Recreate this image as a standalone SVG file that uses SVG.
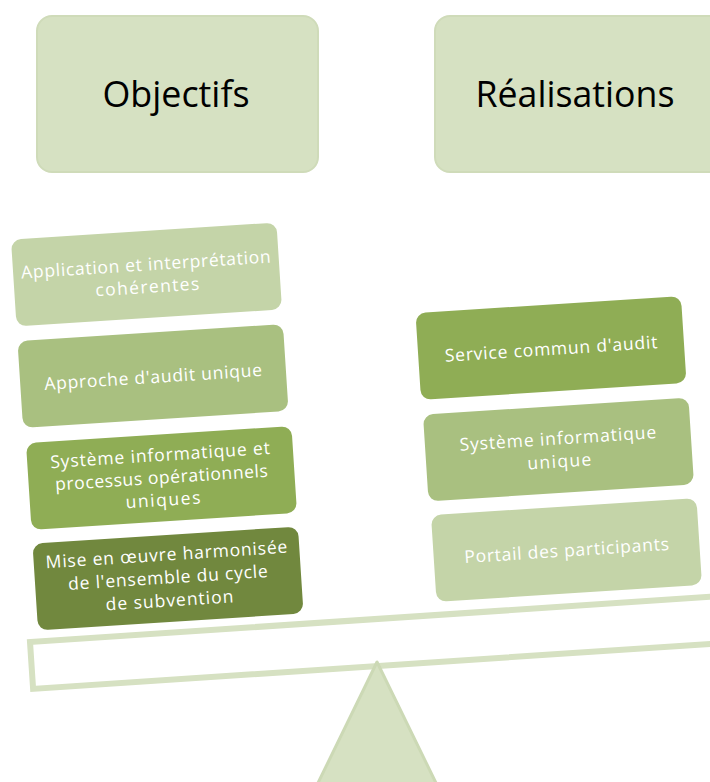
<svg xmlns="http://www.w3.org/2000/svg" width="710" height="782" viewBox="0 0 710 782">
<style>
.hdr{fill:#d6e1c2;stroke:#cfdbb9;stroke-width:2}
.ht{font-family:"Open Sans","Liberation Sans",sans-serif;font-size:36px;fill:#000;text-anchor:middle}
.bt{font-family:"Open Sans","Liberation Sans",sans-serif;font-size:17.5px;fill:#fff;text-anchor:middle}
.c1{fill:#c4d4a8}.c2{fill:#a9c080}.c3{fill:#8fad55}.c4{fill:#71883e}
</style>
<rect width="710" height="782" fill="#fff"/>
<g id="beam">
<rect x="30" y="642" width="720" height="47" fill="#fff" stroke="#d6e1c2" stroke-width="6" transform="rotate(-3.8 30 642)"/>
</g>
<g id="fulcrum">
<polygon points="377,662 317,785 437,785" fill="#d6e1c2" stroke="#ccd9b5" stroke-width="3" stroke-linejoin="round"/>
</g>
<g id="objectifs">
<rect class="hdr" x="37" y="16" width="281" height="156" rx="15"/>
<text class="ht" x="176" y="107" textLength="147" lengthAdjust="spacingAndGlyphs">Objectifs</text>
</g>
<g id="realisations">
<rect class="hdr" x="435" y="16" width="300" height="156" rx="15"/>
<text class="ht" x="575" y="107" textLength="199" lengthAdjust="spacingAndGlyphs">Réalisations</text>
</g>
<g id="obj1" transform="translate(146.5 274.5) rotate(-3.7)">
<rect class="c1" x="-133" y="-43.5" width="266" height="87" rx="10"/>
<text class="bt" x="0" y="-4" textLength="250">Application et interprétation</text>
<text class="bt" x="0" y="18.5" textLength="104">cohérentes</text>
</g>
<g id="obj2" transform="translate(153 376) rotate(-3.7)">
<rect class="c2" x="-133" y="-43.5" width="266" height="87" rx="10"/>
<text class="bt" x="0" y="7" textLength="218">Approche d'audit unique</text>
</g>
<g id="obj3" transform="translate(161.5 478) rotate(-3.7)">
<rect class="c3" x="-133" y="-43.5" width="266" height="87" rx="10"/>
<text class="bt" x="0" y="-17" textLength="220">Système informatique et</text>
<text class="bt" x="0" y="5.5" textLength="213">processus opérationnels</text>
<text class="bt" x="0" y="28" textLength="75">uniques</text>
</g>
<g id="obj4" transform="translate(168 578.5) rotate(-3.7)">
<rect class="c4" x="-133" y="-43.5" width="266" height="87" rx="10"/>
<text class="bt" x="0" y="-18" textLength="242">Mise en œuvre harmonisée</text>
<text class="bt" x="0" y="5" textLength="200">de l'ensemble du cycle</text>
<text class="bt" x="0" y="28" textLength="128">de subvention</text>
</g>
<g id="real1" transform="translate(551 348) rotate(-3.7)">
<rect class="c3" x="-133" y="-43.5" width="266" height="87" rx="10"/>
<text class="bt" x="0" y="7" textLength="213">Service commun d'audit</text>
</g>
<g id="real2" transform="translate(558.5 449.5) rotate(-3.7)">
<rect class="c2" x="-133" y="-43.5" width="266" height="87" rx="10"/>
<text class="bt" x="0" y="-5" textLength="197">Système informatique</text>
<text class="bt" x="0" y="18" textLength="64">unique</text>
</g>
<g id="real3" transform="translate(566.5 550) rotate(-3.7)">
<rect class="c1" x="-133" y="-43.5" width="266" height="87" rx="10"/>
<text class="bt" x="0" y="6.5" textLength="205">Portail des participants</text>
</g>
<g id="connectors"/>
</svg>
